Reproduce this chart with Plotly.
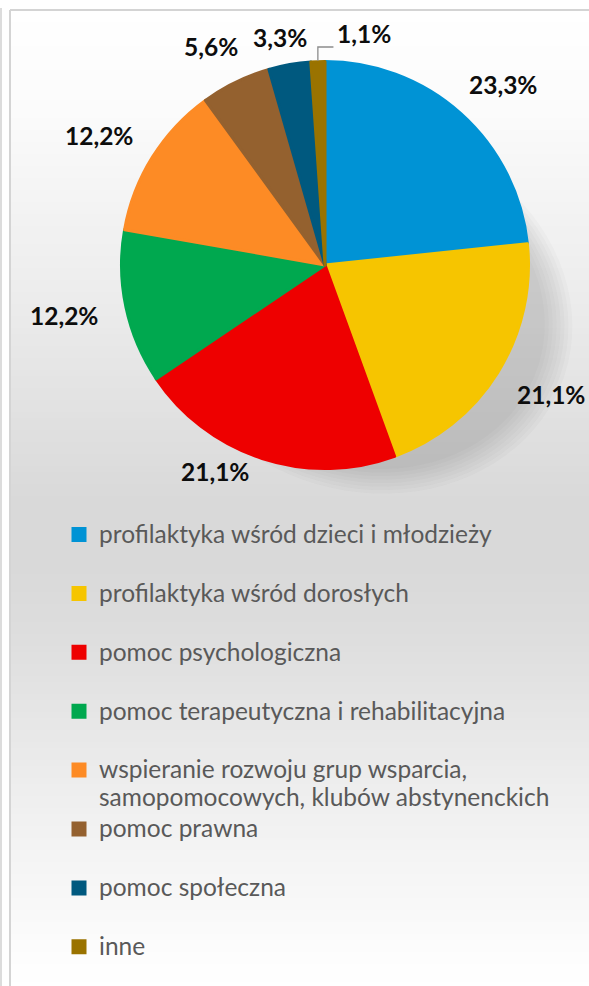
import math
import plotly.graph_objects as go

# ---------------- data ----------------
categories = [
    "profilaktyka wśród dzieci i młodzieży",
    "profilaktyka wśród dorosłych",
    "pomoc psychologiczna",
    "pomoc terapeutyczna i rehabilitacyjna",
    "wspieranie rozwoju grup wsparcia,<br>samopomocowych, klubów abstynenckich",
    "pomoc prawna",
    "pomoc społeczna",
    "inne",
]
counts = [21, 19, 19, 11, 11, 5, 3, 1]
colors = ["#0093d5", "#f6c500", "#ee0000", "#00a84f", "#fd8b25",
          "#94612f", "#00597f", "#9a7300"]

# ---------------- layout constants ----------------
W, H = 589, 986
CX, CY, R = 325, 265, 203.5
LBL_FONT = 24.5
LEG_FONT = 21.5       # governs legend slot height
LEG_TEXT = 24.5       # visible legend glyph size

total = sum(counts)
pct_text = [f"{c / total * 100:.1f}%".replace(".", ",") for c in counts]


def px(x):
    return x / W


def py(y):
    return 1 - y / H


fig = go.Figure()


def leg_label(c, last):
    lines = c.split("<br>")
    parts = [f"<span style='font-size:{LEG_TEXT}px'>{ln}</span>" for ln in lines]
    if len(parts) == 1 and not last:
        parts.append("\u00a0")   # equal slot height for every entry
    return "<br>".join(parts)


leg_labels = [leg_label(c, i == len(categories) - 1) for i, c in enumerate(categories)]

fig.add_trace(go.Pie(
    labels=leg_labels,
    values=counts,
    sort=False,
    direction="clockwise",
    rotation=0,
    textinfo="none",
    hoverinfo="percent",
    marker=dict(colors=colors, line=dict(color=colors, width=3)),
    domain=dict(x=[px(CX - R), px(CX + R)], y=[py(CY + R), py(CY - R)]),
    showlegend=True,
))

# ---------------- background (vertical gradient) ----------------
shapes = []
stops = [(10, 255), (110, 251), (310, 235), (500, 217), (570, 217),
         (640, 222), (810, 240), (960, 253), (986, 255)]


def grey_at(y):
    for (y0, g0), (y1, g1) in zip(stops[:-1], stops[1:]):
        if y0 <= y <= y1:
            t = (y - y0) / (y1 - y0)
            return g0 + (g1 - g0) * t
    return 255


step = 6
y = 10
while y < H:
    g = int(round(grey_at(y + step / 2)))
    shapes.append(dict(type="rect", xref="paper", yref="paper", layer="below",
                       x0=px(10), x1=1.0, y0=py(y), y1=max(py(y + step + 0.6), 0.0),
                       line=dict(width=0), fillcolor=f"rgb({g},{g},{g})"))
    y += step

# chart-area border (top and left visible) and outer frame line
shapes.append(dict(type="line", xref="paper", yref="paper", layer="below",
                   x0=px(10), x1=1.0, y0=py(10), y1=py(10),
                   line=dict(color="#d4d4d4", width=2)))
shapes.append(dict(type="line", xref="paper", yref="paper", layer="below",
                   x0=px(10), x1=px(10), y0=py(10), y1=0.0,
                   line=dict(color="#d4d4d4", width=2)))
shapes.append(dict(type="line", xref="paper", yref="paper", layer="below",
                   x0=px(1), x1=px(1), y0=py(8), y1=0.0,
                   line=dict(color="#dcdcdc", width=2)))


# soft drop shadow under the pie (layered ellipses)
def ellipse_path(cx, cy, a, b, ang_deg, n=90):
    ang = math.radians(ang_deg)
    pts = []
    for i in range(n):
        t = 2 * math.pi * i / n
        ex, ey = a * math.cos(t), b * math.sin(t)
        x = cx + ex * math.cos(ang) - ey * math.sin(ang)
        yy = cy + ex * math.sin(ang) + ey * math.cos(ang)
        pts.append((px(x), py(yy)))
    return "M" + "L".join(f"{x:.5f},{yy:.5f}" for x, yy in pts) + "Z"


for k in range(8):
    s = 1.05 - 0.02 * k
    shapes.append(dict(type="path", xref="paper", yref="paper", layer="below",
                       path=ellipse_path(CX + 40, CY + 45, 200 * s, 172 * s, 18),
                       line=dict(width=0), fillcolor="rgba(70,70,70,0.028)"))

# ---------------- data labels (outside end, kept inside plot area) ----------------
XMIN, XMAX, YMIN, YMAX = 15, 584, 28, 482


def box_dist(cx, cy, w, h):
    nx = min(max(CX, cx - w / 2), cx + w / 2)
    ny = min(max(CY, cy - h / 2), cy + h / 2)
    return math.hypot(nx - CX, ny - CY)


annotations = []
cum = 0
boxes = []
for i, c in enumerate(counts):
    mid = (cum + c / 2) / total * 2 * math.pi
    cum += c
    s, co = math.sin(mid), math.cos(mid)
    w = len(pct_text[i]) * 13.3
    h = 20
    rr = R + 30
    cx = CX + rr * s + w / 2 * s
    cy = CY - rr * co - h / 2 * co
    leader = None
    if boxes:
        pcx, pcy, pw, ph = boxes[-1]
        if abs(cx - pcx) < (w + pw) / 2 and abs(cy - pcy) < (h + ph) / 2:
            ex, ey = CX + (R + 1) * s, CY - (R + 1) * co
            cx = pcx + pw / 2 + 31 + w / 2
            cy = pcy - 5
            leader = [ex, ey]
    if leader is None:
        # keep inside the plot area, sliding along the free axis to stay off the pie
        ncy = min(max(cy, YMIN + h / 2), YMAX - h / 2)
        if ncy != cy:
            cy = ncy
            for _ in range(300):
                if box_dist(cx, cy, w, h) >= R + 8:
                    break
                cx += -1 if s < 0 else 1
        ncx = min(max(cx, XMIN + w / 2), XMAX - w / 2)
        if ncx != cx:
            cx = ncx
            for _ in range(300):
                if box_dist(cx, cy, w, h) >= R + 8:
                    break
                cy += 1 if co < 0 else -1
    boxes.append((cx, cy, w, h))
    annotations.append(dict(x=px(cx), y=py(cy), xref="paper", yref="paper",
                            text=f"<b>{pct_text[i]}</b>", showarrow=False,
                            xanchor="center", yanchor="middle",
                            font=dict(family="Lato", size=LBL_FONT, color="#0d0d0d")))
    if leader:
        ex, ey = leader
        ly = cy + h / 2 + 4
        lx = cx - w / 2 - 4
        shapes.append(dict(type="path", xref="paper", yref="paper", layer="above",
                           path=f"M{px(ex):.5f},{py(ey):.5f}L{px(ex):.5f},{py(ly):.5f}L{px(lx):.5f},{py(ly):.5f}",
                           line=dict(color="#8c8c8c", width=1.3)))

fig.update_layout(
    width=W, height=H,
    margin=dict(l=0, r=0, t=0, b=0),
    paper_bgcolor="white",
    plot_bgcolor="white",
    shapes=shapes,
    annotations=annotations,
    legend=dict(
        x=px(59), y=py(514), xanchor="left", yanchor="top",
        font=dict(family="Lato", size=LEG_FONT, color="#595959"),
        bgcolor="rgba(0,0,0,0)", valign="top",
        traceorder="normal",
    ),
    font=dict(family="Lato"),
)

fig.write_html("out.html", config={"displayModeBar": False},
               post_script="document.body.style.margin='0';")
